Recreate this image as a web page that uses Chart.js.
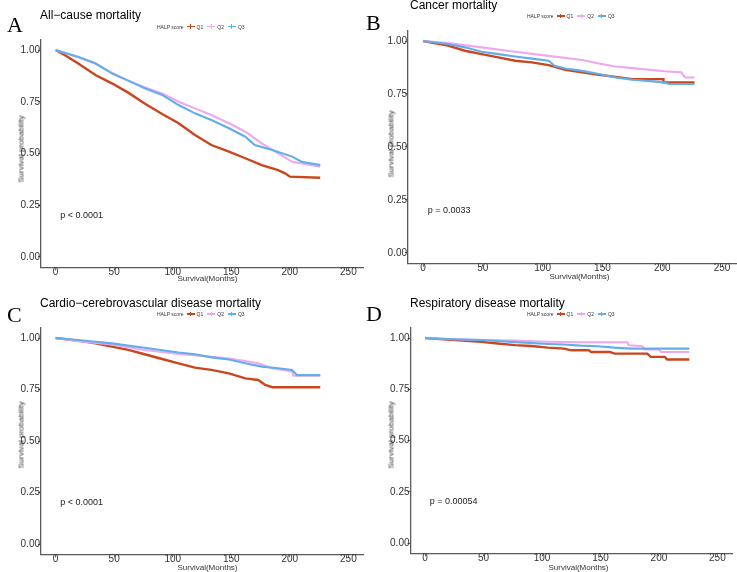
<!DOCTYPE html>
<html><head><meta charset="utf-8">
<script src="https://cdn.jsdelivr.net/npm/chart.js@4"></script>
<style>
html,body{margin:0;padding:0;background:#fff;overflow:hidden;}
body{width:737px;height:572px;position:relative;font-family:"Liberation Sans",Arial,sans-serif;}
.abs{position:absolute;white-space:nowrap;}
canvas{position:absolute;}
.letter{font-family:"Liberation Serif","Times New Roman",serif;font-size:22px;line-height:22px;color:#000;}
.title{font-size:12px;line-height:12px;color:#000;}
.legend{font-size:5px;line-height:6px;height:6px;display:flex;align-items:center;color:#333;}
.sym{display:inline-block;width:8px;height:1.5px;position:relative;margin:0 2px 0 3px;}
.sym i{position:absolute;left:3.5px;top:-1.5px;width:1px;height:4.5px;}
.ytitle{font-size:8px;line-height:9px;transform:translate(-50%,-50%) rotate(-90deg);color:#333;}
.xtitle{font-size:8px;line-height:9px;transform:translate(-50%,-50%);color:#333;}
</style></head><body>
<script>
// ---------- data ----------
const groups = ['Q1', 'Q2', 'Q3'];
const legendTitle = 'HALP score';
const xTicks = [0, 50, 100, 150, 200, 250];
const yTicks = [0, 0.25, 0.5, 0.75, 1];
const xTitle = 'Survival(Months)';
const yTitle = 'Survival probability';
const panelLetters = ['A', 'B', 'C', 'D'];
const panelTitles = ['All\u2212cause mortality', 'Cancer mortality', 'Cardio\u2212cerebrovascular disease mortality', 'Respiratory disease mortality'];
const pValues = ['p < 0.0001', 'p = 0.0033', 'p < 0.0001', 'p = 0.00054'];

// All-cause mortality [months, survival]
const allQ1 = [[0,1],[8,0.975],[19,0.936],[34,0.879],[48,0.839],[62,0.794],[76,0.742],[91,0.691],[105,0.646],[119,0.589],[133,0.541],[148,0.509],[162,0.477],[176,0.444],[190,0.42],[196,0.404],[200,0.388],[226,0.383]];
const allQ2 = [[0,1],[19,0.965],[34,0.933],[48,0.89],[62,0.852],[76,0.82],[91,0.79],[105,0.75],[119,0.718],[133,0.686],[148,0.646],[162,0.605],[176,0.549],[190,0.501],[202,0.46],[226,0.436]];
const allQ3 = [[0,1],[19,0.968],[34,0.936],[48,0.887],[62,0.852],[76,0.815],[91,0.783],[105,0.734],[119,0.694],[133,0.662],[148,0.622],[162,0.581],[170,0.541],[185,0.517],[202,0.485],[210,0.46],[226,0.444]];
// Cancer mortality
const canQ1 = [[0,1],[21,0.978],[35,0.954],[49,0.938],[63,0.923],[77,0.907],[91,0.899],[105,0.886],[119,0.864],[133,0.852],[147,0.841],[161,0.831],[175,0.82],[201,0.82],[201,0.805],[227,0.805]];
const canQ2 = [[0,1],[21,0.99],[49,0.97],[77,0.949],[105,0.93],[133,0.91],[147,0.894],[161,0.88],[175,0.872],[188,0.865],[202,0.857],[216,0.852],[219,0.828],[227,0.828]];
const canQ3 = [[0,1],[21,0.986],[35,0.97],[49,0.949],[63,0.938],[77,0.927],[91,0.917],[105,0.907],[110,0.883],[119,0.87],[133,0.859],[147,0.844],[161,0.828],[175,0.817],[188,0.812],[201,0.805],[206,0.797],[227,0.797]];
// Cardio-cerebrovascular disease mortality
const cvdQ1 = [[0,1],[19,0.987],[34,0.974],[48,0.958],[62,0.942],[76,0.921],[91,0.898],[105,0.877],[119,0.856],[133,0.845],[148,0.828],[162,0.804],[173,0.796],[179,0.772],[185,0.761],[226,0.761]];
const cvdQ2 = [[0,1],[19,0.985],[48,0.969],[76,0.942],[105,0.922],[133,0.909],[148,0.9],[162,0.888],[173,0.877],[185,0.853],[202,0.837],[203,0.817],[226,0.817]];
const cvdQ3 = [[0,1],[19,0.99],[48,0.974],[76,0.953],[105,0.93],[119,0.921],[133,0.906],[148,0.896],[162,0.877],[176,0.861],[190,0.853],[202,0.845],[206,0.82],[226,0.82]];
// Respiratory disease mortality
const resQ1 = [[0,1],[19,0.992],[48,0.981],[62,0.973],[77,0.965],[91,0.961],[105,0.953],[119,0.948],[125,0.94],[140,0.94],[142,0.932],[158,0.932],[162,0.924],[190,0.924],[193,0.908],[205,0.908],[207,0.895],[226,0.895]];
const resQ2 = [[0,1],[19,0.995],[48,0.99],[77,0.987],[105,0.982],[133,0.979],[173,0.979],[174,0.965],[186,0.96],[188,0.944],[200,0.944],[202,0.932],[226,0.932]];
const resQ3 = [[0,1],[19,0.995],[48,0.99],[77,0.98],[105,0.971],[119,0.968],[133,0.963],[148,0.96],[162,0.953],[176,0.948],[226,0.948]];

const panelSeries = [[allQ1, allQ2, allQ3], [canQ1, canQ2, canQ3], [cvdQ1, cvdQ2, cvdQ3], [resQ1, resQ2, resQ3]];

// ---------- styles / layout ----------
const colors = ['#C9461E', '#EEA9EE', '#62AEEB'];
const widths = [2.4, 2.1, 2.1];
const axisColor = '#5a5a5a';
const FONT = '"Liberation Sans", Arial, sans-serif';
const layout = [
  {box:[0,0,368,290], top:39.65, right:5, yw:41, xh:22.65, letter:[7,13.6], title:[40,9.1], legend:[157,26.7], yt:[21,148.5], xt:[207.5,277.5]},
  {box:[368,0,369,290], top:30.4, right:0, yw:40.05, xh:26.4, letter:[366,11.6], title:[410,-0.9], legend:[527,16], yt:[391,143.5], xt:[579.5,276]},
  {box:[0,290,368,282], top:37.7, right:5, yw:41, xh:17.7, letter:[7,303.6], title:[40,297.2], legend:[157,314], yt:[21,435], xt:[207.5,566.5]},
  {box:[368,290,369,282], top:37.75, right:5, yw:42.5, xh:18.75, letter:[366,302.6], title:[410,296.5], legend:[527,314], yt:[391,435], xt:[578.5,567]}
];

const pvalPlugin = {
  id: 'pval',
  afterDatasetsDraw(chart, args, opts) {
    const ctx = chart.ctx;
    ctx.save();
    ctx.font = '9px ' + FONT;
    ctx.fillStyle = '#222';
    ctx.textAlign = 'left';
    ctx.textBaseline = 'middle';
    ctx.fillText(opts.text, chart.scales.x.getPixelForValue(opts.x), chart.scales.y.getPixelForValue(opts.y));
    ctx.restore();
  }
};

function addDiv(cls, text, left, top) {
  const d = document.createElement('div');
  d.className = 'abs ' + cls;
  d.textContent = text;
  d.style.left = left + 'px';
  d.style.top = top + 'px';
  document.body.appendChild(d);
  return d;
}

function addLegend(left, cy) {
  const d = document.createElement('div');
  d.className = 'abs legend';
  d.style.left = left + 'px';
  d.style.top = (cy - 3) + 'px';
  const t = document.createElement('span');
  t.textContent = legendTitle;
  d.appendChild(t);
  groups.forEach((g, i) => {
    const s = document.createElement('span');
    s.className = 'sym';
    s.style.background = colors[i];
    const c = document.createElement('i');
    c.style.background = colors[i];
    s.appendChild(c);
    d.appendChild(s);
    const l = document.createElement('span');
    l.textContent = g;
    l.style.marginRight = '1px';
    d.appendChild(l);
  });
  document.body.appendChild(d);
}

layout.forEach((L, k) => {
  const cv = document.createElement('canvas');
  cv.width = L.box[2]; cv.height = L.box[3];
  cv.style.left = L.box[0] + 'px'; cv.style.top = L.box[1] + 'px';
  cv.style.width = L.box[2] + 'px'; cv.style.height = L.box[3] + 'px';
  document.body.appendChild(cv);

  const tickFont = {family: FONT, size: 10, lineHeight: 1};
  new Chart(cv.getContext('2d'), {
    type: 'line',
    data: {
      datasets: groups.map((g, i) => ({
        label: g,
        data: panelSeries[k][i].map(([x, y]) => ({x, y})),
        borderColor: colors[i],
        backgroundColor: colors[i],
        borderWidth: widths[i],
        pointRadius: 0,
        fill: false,
        tension: 0,
        order: 3 - i
      }))
    },
    options: {
      responsive: false,
      animation: false,
      devicePixelRatio: 1,
      events: [],
      layout: {padding: {top: L.top, right: L.right, left: 0, bottom: 0}},
      plugins: {
        legend: {display: false},
        tooltip: {enabled: false},
        title: {display: false},
        pval: {text: pValues[k], x: 4, y: 0.2}
      },
      scales: {
        x: {
          type: 'linear', min: -12.5, max: 262.5,
          afterBuildTicks: s => { s.ticks = xTicks.map(v => ({value: v})); },
          afterFit: s => { s.height = L.xh; },
          grid: {display: true, drawOnChartArea: false, drawTicks: true, tickLength: 3, color: axisColor, lineWidth: 1},
          border: {display: true, color: axisColor, width: 1.3},
          ticks: {font: tickFont, color: '#333', padding: -3, maxRotation: 0, autoSkip: false, callback: v => String(v)}
        },
        y: {
          type: 'linear', min: -0.05, max: 1.05,
          afterBuildTicks: s => { s.ticks = yTicks.map(v => ({value: v})); },
          afterFit: s => { s.width = L.yw; },
          grid: {display: true, drawOnChartArea: false, drawTicks: true, tickLength: 3, color: axisColor, lineWidth: 1},
          border: {display: true, color: axisColor, width: 1.3},
          ticks: {font: tickFont, color: '#333', padding: -2, autoSkip: false, callback: v => Number(v).toFixed(2)}
        }
      }
    },
    plugins: [pvalPlugin]
  });

  addDiv('letter', panelLetters[k], L.letter[0], L.letter[1]);
  addDiv('title', panelTitles[k], L.title[0], L.title[1]);
  addLegend(L.legend[0], L.legend[1]);
  addDiv('ytitle', yTitle, L.yt[0], L.yt[1]);
  addDiv('xtitle', xTitle, L.xt[0], L.xt[1]);
});
</script>
</body></html>
